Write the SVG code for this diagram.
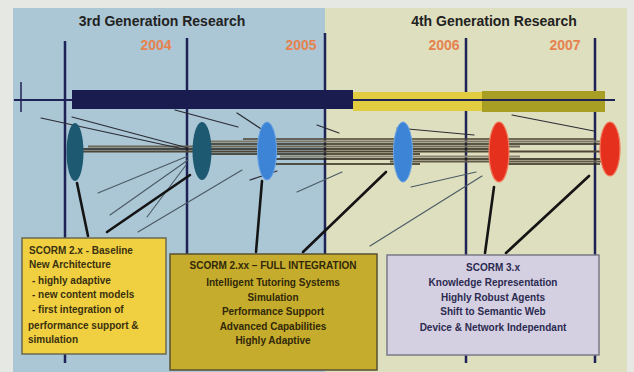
<svg xmlns="http://www.w3.org/2000/svg" width="634" height="372" viewBox="0 0 634 372">
  <defs>
    <style>
      .title { font-family: "Liberation Sans", Arial, sans-serif; font-weight: bold; font-size: 14px; fill: #222222; text-anchor: middle; }
      .year { font-family: "Liberation Sans", Arial, sans-serif; font-weight: bold; font-size: 14px; fill: #e6824e; text-anchor: middle; }
      .grid { stroke: #1e2256; stroke-width: 2.5; fill: none; }
      .thin { stroke: #2a2c34; stroke-width: 1.2; fill: none; stroke-linecap: round; }
      .faint { stroke: #4a5a64; stroke-width: 1.1; fill: none; stroke-linecap: round; }
      .link { stroke: #141414; stroke-width: 2.6; fill: none; stroke-linecap: round; }
      .boxtxt { font-family: "Liberation Sans", Arial, sans-serif; font-weight: bold; font-size: 10px; }
      .teal { fill: #1d5a72; }
      .blue { fill: #3d84d6; stroke: #6aa4e6; stroke-width: 1; }
      .red { fill: #e6301e; stroke: #f27a5c; stroke-width: 1.2; }
    </style>
  </defs>

  <!-- page and era panels -->
  <rect x="0" y="0" width="634" height="372" fill="#e6e8e4"/>
  <rect x="13" y="8" width="312" height="364" fill="#abc6d5"/>
  <rect x="325" y="8" width="302" height="364" fill="#dedfbe"/>

  <text class="title" x="162" y="26">3rd Generation Research</text>
  <text class="title" x="494" y="26">4th Generation Research</text>

  <text class="year" x="156" y="50">2004</text>
  <text class="year" x="301" y="50">2005</text>
  <text class="year" x="444" y="50">2006</text>
  <text class="year" x="565" y="50">2007</text>

  <!-- year dividers -->
  <g id="dividers">
    <line class="grid" x1="65" y1="41" x2="65" y2="363"/>
    <line class="grid" x1="187" y1="38" x2="187" y2="260"/>
    <line class="grid" x1="325" y1="33" x2="325" y2="260"/>
    <line class="grid" x1="466" y1="38" x2="466" y2="363"/>
    <line class="grid" x1="595" y1="38" x2="595" y2="363"/>
  </g>

  <!-- timeline bar -->
  <g id="timeline">
    <line x1="21" y1="82" x2="21" y2="112" stroke="#1e2256" stroke-width="1.5"/>
    <rect x="353" y="92" width="129" height="19" fill="#e2cc40"/>
    <rect x="482" y="91" width="123" height="21" fill="#a89e24"/>
    <line x1="14" y1="100" x2="615" y2="100" stroke="#1e2256" stroke-width="2"/>
    <rect x="72" y="90" width="281" height="19" fill="#1a1c50"/>
  </g>

  <!-- fibre bundle and scattered strands -->
  <g id="connectors">
    <g stroke-linecap="butt" fill="none">
      <line x1="243" y1="139" x2="595" y2="139" stroke="#4a4232" stroke-width="1.4"/>
      <line x1="205" y1="141.5" x2="600" y2="141.5" stroke="#7e7664" stroke-width="2.2"/>
      <line x1="195" y1="144" x2="605" y2="144" stroke="#2e281c" stroke-width="1.6"/>
      <line x1="88" y1="146.5" x2="520" y2="146.5" stroke="#6e6856" stroke-width="2.2"/>
      <line x1="80" y1="149" x2="500" y2="149" stroke="#221c12" stroke-width="1.6"/>
      <line x1="72" y1="151.5" x2="600" y2="151.5" stroke="#4e4636" stroke-width="2"/>
      <line x1="195" y1="154" x2="420" y2="154" stroke="#2e2618" stroke-width="1.6"/>
      <line x1="280" y1="156.5" x2="520" y2="156.5" stroke="#8a8472" stroke-width="2.2"/>
      <line x1="270" y1="159" x2="600" y2="159" stroke="#221c12" stroke-width="1.6"/>
      <line x1="390" y1="161.5" x2="605" y2="161.5" stroke="#625a48" stroke-width="2"/>
      <line x1="270" y1="164" x2="420" y2="164" stroke="#2e2618" stroke-width="1.4"/>
      <line x1="500" y1="164" x2="600" y2="164" stroke="#2e2618" stroke-width="1.4"/>
    </g>

    <line class="thin" x1="41" y1="118" x2="188" y2="150"/>
    <line class="thin" x1="72" y1="117" x2="188" y2="148"/>
    <line class="faint" x1="98" y1="193" x2="188" y2="156"/>
    <line class="faint" x1="110" y1="215" x2="188" y2="160"/>
    <line class="faint" x1="147" y1="217" x2="186" y2="165"/>
    <line class="faint" x1="138" y1="232" x2="242" y2="170"/>
    <line class="thin" x1="175" y1="110" x2="238" y2="127"/>
    <line class="thin" x1="237" y1="113" x2="272" y2="136"/>
    <line class="thin" x1="250" y1="180" x2="277" y2="171"/>
    <line class="faint" x1="297" y1="192" x2="342" y2="172"/>
    <line class="thin" x1="317" y1="125" x2="339" y2="133"/>
    <line class="thin" x1="397" y1="128" x2="474" y2="135"/>
    <line class="thin" x1="512" y1="115" x2="594" y2="131"/>
    <line class="faint" x1="411" y1="187" x2="476" y2="172"/>
    <line class="faint" x1="370" y1="246" x2="482" y2="176"/>

    <line class="link" x1="77" y1="183" x2="88" y2="236"/>
    <line class="link" x1="190" y1="175" x2="107" y2="232"/>
    <line class="link" x1="262" y1="181" x2="256" y2="252"/>
    <line class="link" x1="386" y1="172" x2="303" y2="252"/>
    <line class="link" x1="494" y1="187" x2="485" y2="253"/>
    <line class="link" x1="589" y1="176" x2="506" y2="253"/>
  </g>

  <!-- milestones -->
  <g id="m2004a"><ellipse class="teal" cx="75" cy="152" rx="8.5" ry="29"/></g>
  <g id="m2004b"><ellipse class="teal" cx="202" cy="151" rx="9.5" ry="29"/></g>
  <g id="m2005a"><ellipse class="blue" cx="267" cy="151" rx="9.5" ry="29"/></g>
  <g id="m2005b"><ellipse class="blue" cx="403" cy="152" rx="9.5" ry="30"/></g>
  <g id="m2006"><ellipse class="red" cx="499" cy="152" rx="10" ry="30"/></g>
  <g id="m2007"><ellipse class="red" cx="610" cy="149" rx="10" ry="27"/></g>

  <!-- release boxes -->
  <g id="scorm2x">
    <rect x="22" y="238" width="144" height="116" fill="#f0d040" stroke="#6a6a50" stroke-width="1.5"/>
    <g class="boxtxt" fill="#3a3010">
      <text x="29" y="254">SCORM 2.x - Baseline</text>
      <text x="29" y="268">New Architecture</text>
      <text x="32" y="284">- highly adaptive</text>
      <text x="32" y="298">- new content models</text>
      <text x="32" y="313">- first integration of</text>
      <text x="28" y="329">performance support &amp;</text>
      <text x="28" y="343">simulation</text>
    </g>
  </g>

  <g id="scorm2xx">
    <rect x="170" y="254" width="207" height="116" fill="#c6ac2c" stroke="#5a5030" stroke-width="1.5"/>
    <g class="boxtxt" fill="#302808" text-anchor="middle">
      <text x="273" y="269">SCORM 2.xx – FULL INTEGRATION</text>
      <text x="273" y="286">Intelligent Tutoring Systems</text>
      <text x="273" y="301">Simulation</text>
      <text x="273" y="315">Performance Support</text>
      <text x="273" y="330">Advanced Capabilities</text>
      <text x="273" y="344">Highly Adaptive</text>
    </g>
  </g>

  <g id="scorm3x">
    <rect x="387" y="255" width="212" height="100" fill="#d4d0e2" stroke="#7a7a88" stroke-width="1.5"/>
    <g class="boxtxt" fill="#2c2a50" text-anchor="middle">
      <text x="493" y="271">SCORM 3.x</text>
      <text x="493" y="286">Knowledge Representation</text>
      <text x="493" y="301">Highly Robust Agents</text>
      <text x="493" y="315">Shift to Semantic Web</text>
      <text x="493" y="331">Device &amp; Network Independant</text>
    </g>
  </g>
</svg>
